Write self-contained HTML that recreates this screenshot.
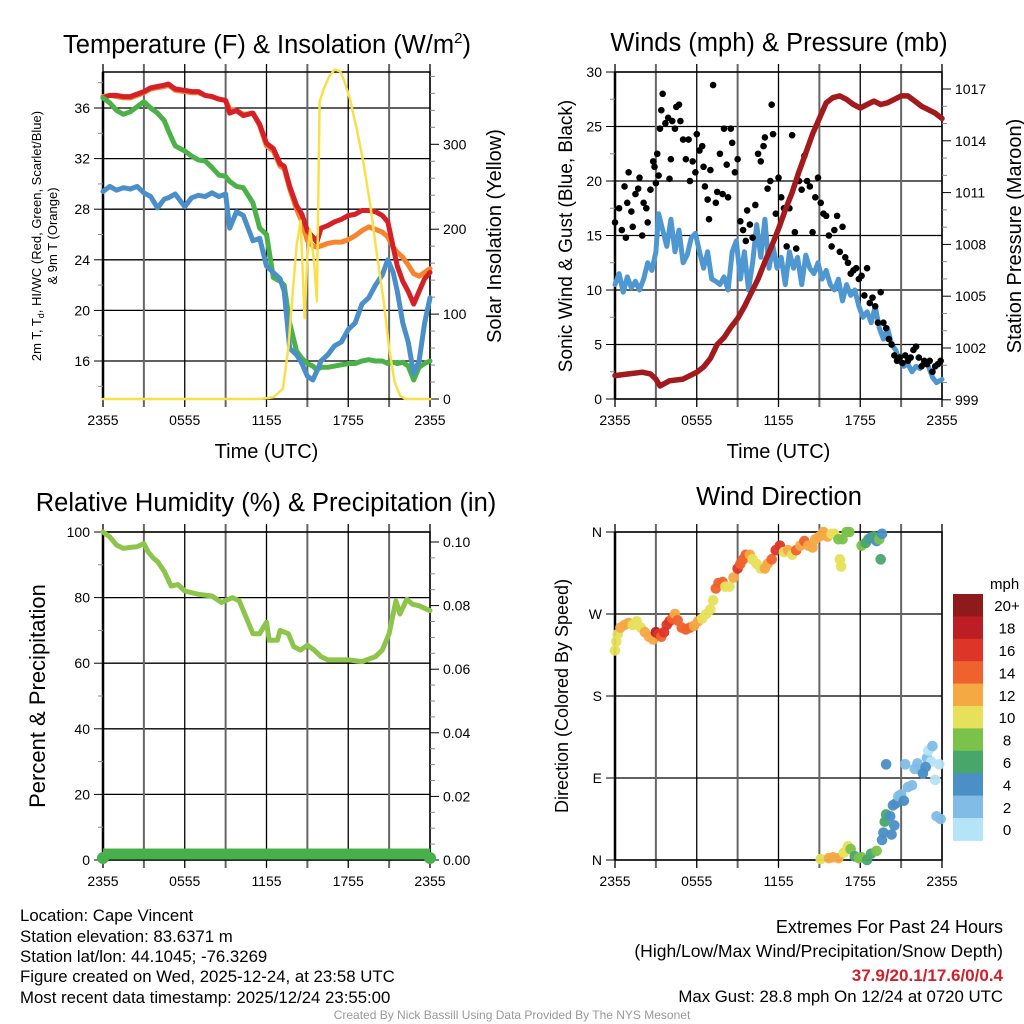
<!DOCTYPE html>
<html><head><meta charset="utf-8">
<style>
html,body{margin:0;padding:0;background:#fff;}
svg{display:block;font-family:"Liberation Sans",Arial,sans-serif;}
</style></head>
<body>
<svg id="chart" width="1024" height="1024" viewBox="0 0 1024 1024" xmlns="http://www.w3.org/2000/svg">
<rect width="1024" height="1024" fill="#fff"/>
<g id="root"></g>
<g font-size="16.8" fill="#000">
<text x="20" y="921">Location: Cape Vincent</text>
<text x="20" y="942">Station elevation: 83.6371 m</text>
<text x="20" y="962">Station lat/lon: 44.1045; -76.3269</text>
<text x="20" y="982">Figure created on Wed, 2025-12-24, at 23:58 UTC</text>
<text x="20" y="1003">Most recent data timestamp: 2025/12/24 23:55:00</text>
</g>
<g font-size="17" text-anchor="end">
<text x="1003" y="933" font-size="18">Extremes For Past 24 Hours</text>
<text x="1003" y="957" font-size="17.5">(High/Low/Max Wind/Precipitation/Snow Depth)</text>
<text x="1003" y="981" fill="#d0202a" font-weight="bold">37.9/20.1/17.6/0/0.4</text>
<text x="1003" y="1002" font-size="16.8">Max Gust: 28.8 mph On 12/24 at 0720 UTC</text>
</g>
<text x="512" y="1019" font-size="12" fill="#999" text-anchor="middle">Created By Nick Bassill Using Data Provided By The NYS Mesonet</text>
</svg>
<script>
// ---------- data ----------
const timeTicks = ["2355","0555","1155","1755","2355"];
const tempHours = [0,0.5,1,1.5,2,2.5,3,3.5,4,4.5,4.8,5.3,6,6.5,7,7.5,8,8.5,9,9.3,9.8,10.3,11,11.5,12,12.5,13,13.3,13.7,14.2,14.6,15,15.4,15.7,16,16.5,17,17.5,18,18.5,19,19.5,20,20.5,20.9,21.3,21.6,22,22.4,22.8,23.2,23.6,24];
const tempRed =   [36.8,37.0,37.0,36.9,36.9,37.1,37.3,37.6,37.7,37.8,37.9,37.5,37.4,37.3,37.3,37.0,36.9,36.7,36.6,35.6,35.8,35.4,35.6,34.7,33.2,32.8,31.6,31.4,29.8,28.3,27.6,26.3,25.8,25.4,26.5,26.7,27.0,27.2,27.5,27.6,27.9,27.9,27.8,27.5,27.0,25.0,23.5,22.3,21.5,20.5,21.5,22.5,23.0];
const tempOrange =[36.9,37.0,36.9,36.8,36.8,37.0,37.2,37.5,37.6,37.7,37.8,37.4,37.3,37.2,37.2,37.0,36.9,36.7,36.6,35.9,35.8,35.5,35.6,34.6,33.0,32.6,31.4,31.2,29.6,28.0,27.0,25.5,25.1,25.0,25.1,25.3,25.4,25.4,25.6,25.9,26.3,26.6,26.4,26.2,25.8,25.0,24.6,24.2,23.6,22.9,22.7,23.0,23.3];
const tempGreen = [36.8,36.4,35.8,35.5,35.7,36.1,36.5,36.0,35.6,35.0,34.2,33.0,32.6,32.2,31.9,31.8,31.3,30.7,30.6,30.2,29.8,29.7,28.5,26.5,26.0,22.6,22.3,22.0,19.0,16.8,16.2,15.8,15.6,15.3,15.5,15.5,15.6,15.7,15.8,15.8,16.0,16.1,16.0,16.0,15.8,15.9,15.8,15.9,15.6,14.5,15.5,15.8,16.0];
const tempBlue =  [29.4,29.8,29.5,29.7,29.6,29.8,29.3,29.0,28.1,28.8,28.9,29.2,28.2,28.9,29.1,29.0,29.3,29.0,29.2,26.5,27.8,27.5,25.5,25.7,23.5,23.0,22.5,21.5,17.0,16.5,15.8,14.8,14.5,15.2,16.0,16.5,17.2,17.5,18.5,19.0,20.5,21.0,22.0,22.8,24.0,23.0,21.5,19.0,17.5,15.0,16.0,19.0,21.0];
const solarHours = [0,11.5,12.5,13.2,13.6,13.9,14.2,14.5,14.8,15.0,15.2,15.5,15.7,15.9,16.2,16.6,17.0,17.4,17.7,18.1,18.6,19.1,19.6,20.1,20.6,21.0,21.4,21.8,22.2,24];
const solarVals  = [0,0,2,12,60,120,180,210,95,170,200,160,115,350,365,380,388,386,375,355,320,280,230,170,115,60,20,4,0,0];
const pressHours = [0,1,2,2.6,3,3.3,4,5,6,6.5,7,7.5,8,8.5,9,9.5,10,10.5,11,11.5,12,12.5,13,13.5,14,14.5,15,15.5,16,16.5,17,17.5,18,18.5,19,19.5,20,20.5,21,21.5,22,22.5,23,23.5,24];
const pressVals  = [1000.4,1000.5,1000.6,1000.5,1000.2,999.8,1000.1,1000.2,1000.6,1000.9,1001.4,1002.2,1002.6,1003.2,1003.7,1004.4,1005.2,1006.0,1007.0,1007.9,1008.9,1010.0,1011.0,1012.2,1013.3,1014.4,1015.3,1016.2,1016.5,1016.6,1016.4,1016.1,1015.9,1016.1,1016.3,1016.1,1016.2,1016.4,1016.6,1016.6,1016.3,1016.0,1015.8,1015.6,1015.3];
const windHours = [0,0.3,0.6,0.9,1.2,1.5,1.8,2.1,2.4,2.7,3.0,3.2,3.5,3.8,4.1,4.4,4.7,5.0,5.3,5.6,5.9,6.2,6.5,6.8,7.1,7.4,7.7,8.0,8.3,8.6,8.9,9.2,9.5,9.8,10.1,10.4,10.7,11.0,11.3,11.6,11.9,12.2,12.5,12.8,13.1,13.4,13.7,14.0,14.3,14.6,14.9,15.2,15.5,15.8,16.1,16.4,16.7,17.0,17.3,17.6,17.9,18.2,18.5,18.8,19.1,19.4,19.7,20.0,20.3,20.6,20.9,21.2,21.5,21.8,22.1,22.4,22.7,23.0,23.3,23.6,24];
const windVals  = [10.5,11.5,9.8,11.2,10.2,10.8,10.0,11.0,12.5,11.8,13.5,17.0,15.5,14.0,16.5,13.5,15.5,12.5,13.2,14.8,15.2,13.5,12.0,13.5,11.0,10.8,10.5,11.2,10.0,13.5,14.5,11.0,13.5,10.0,12.5,16.0,13.0,16.5,12.0,14.0,12.0,13.0,10.5,13.5,12.0,13.0,10.5,13.2,12.0,11.5,12.5,11.0,11.8,10.5,10.0,11.0,9.0,10.5,9.5,10.0,8.5,7.5,8.0,7.0,8.5,6.5,5.5,6.5,5.0,4.5,3.5,3.0,3.2,2.5,3.0,2.8,3.5,3.0,2.0,1.5,1.8];
const gustHours = [0.0,0.3,0.5,0.7,0.8,0.9,1.0,1.2,1.3,1.5,1.7,1.8,2.0,2.1,2.3,2.4,2.6,2.8,2.9,3.0,3.1,3.2,3.3,3.4,3.5,3.7,3.9,4.0,4.1,4.2,4.4,4.5,4.7,4.8,5.0,5.2,5.4,5.5,5.7,5.9,6.0,6.2,6.4,6.5,6.6,6.8,6.9,7.0,7.2,7.4,7.5,7.7,7.9,8.0,8.2,8.3,8.5,8.6,8.8,9.0,9.2,9.4,9.6,9.7,9.9,10.1,10.3,10.5,10.7,10.9,11.0,11.2,11.4,11.5,11.6,11.8,12.0,12.2,12.4,12.6,12.8,13.0,13.2,13.3,13.5,13.7,13.9,14.1,14.3,14.5,14.7,14.9,15.1,15.3,15.5,15.7,15.9,16.1,16.3,16.5,16.7,16.9,17.1,17.3,17.5,17.7,17.9,18.1,18.3,18.5,18.7,18.9,19.1,19.3,19.5,19.7,19.9,20.1,20.3,20.5,20.7,20.9,21.1,21.3,21.5,21.7,21.9,22.1,22.3,22.5,22.7,22.9,23.1,23.3,23.5,23.7,23.9];
const gustVals  = [16.2,17.5,15.5,19.5,14.8,18.0,20.8,17.2,15.8,18.8,19.3,20.3,15.0,18.0,17.5,16.2,19.2,21.8,21.3,19.8,22.5,20.5,24.8,26.5,28.0,25.3,25.8,20.2,22.0,25.5,24.8,26.8,27.0,25.5,23.8,22.0,23.8,20.0,21.8,20.8,24.3,22.8,23.2,21.3,19.5,18.3,16.5,21.0,28.8,18.0,19.0,22.5,18.8,24.8,21.5,18.5,24.8,23.5,20.8,22.0,16.3,15.5,14.5,17.3,16.0,14.8,17.8,22.5,21.8,23.2,24.0,19.3,20.0,27.0,24.3,17.0,20.3,18.5,17.5,14.0,17.5,24.2,15.3,13.8,20.0,19.2,22.3,20.0,19.5,15.3,18.5,20.3,18.0,17.0,16.8,15.0,14.0,15.5,16.8,13.5,15.8,13.0,12.5,11.5,11.8,12.0,11.0,11.3,9.5,12.0,8.8,9.3,8.5,7.0,9.8,7.0,6.5,5.5,5.0,4.0,3.5,3.8,3.3,4.0,3.5,3.8,4.5,4.8,3.8,3.0,3.5,3.2,3.5,2.5,3.0,3.2,3.5];
const rhHours = [0,0.5,1,1.5,2,2.5,3,3.3,3.7,4,4.5,5,5.5,6,7,8,8.7,9.5,10,10.7,11,11.5,12,12.2,12.8,13,13.6,14,14.5,15,15.5,16,16.5,17,18,19,20,20.5,21,21.5,21.8,22.3,22.7,23.2,24];
const rhVals  = [100,98.5,96,95,95.3,95.5,96.5,94,92,91,88,83.5,84,82,81,80.5,78.5,80,79,72,69,69,72.5,67,67,70,69,65,64,65.5,64,62,61,61,61,60.5,62,64,69,79,75,79.5,78,77.5,76];
const precipHours = [0,24];
const precipVals  = [0,0];
const dirHours = [0.0,0.1,0.2,0.4,0.7,1.0,1.3,1.6,1.9,2.2,2.5,2.8,3.0,3.2,3.4,3.6,3.8,4.0,4.2,4.4,4.6,4.9,5.2,5.5,5.8,6.1,6.4,6.7,7.0,7.2,7.4,7.6,7.9,8.1,8.4,8.7,9.0,9.2,9.4,9.6,9.9,10.1,10.4,10.7,11.0,11.2,11.5,11.8,12.1,12.4,12.7,13.0,13.3,13.6,13.9,14.2,14.5,14.7,15.0,15.3,15.6,15.9,16.1,16.4,16.7,17.0,17.2,16.5,16.6,18.1,18.4,18.6,18.8,19.0,19.2,19.4,19.6,19.5,15.1,15.7,16.0,16.4,16.8,17.1,17.3,17.6,17.9,18.1,18.5,18.8,19.2,19.6,19.7,19.8,19.9,20.2,20.4,20.6,20.8,21.0,21.2,20.5,20.3,21.5,21.8,22.0,22.2,22.5,22.6,22.9,23.0,23.2,23.5,23.3,22.8,21.3,23.6,23.9,23.8,19.9];
const dirDeg   = [230,240,248,255,258,260,258,262,255,250,245,242,250,248,245,250,258,262,265,270,263,255,253,255,257,262,265,270,275,285,298,304,305,300,300,310,320,325,330,335,335,330,325,320,320,325,330,340,345,338,340,335,340,345,350,345,343,352,355,360,355,358,358,352,352,360,360,330,322,345,348,352,354,355,350,352,358,330,1,2,3,2,8,15,12,4,2,3,0,7,10,22,30,42,50,48,60,62,70,72,65,38,28,80,82,100,106,98,95,112,120,108,88,125,102,105,48,45,105,105];
const dirSpeed = [10,10,10,12,12,13,10,10,10,12,13,12,18,16,15,17,16,16,14,12,14,15,15,14,13,12,11,10,10,11,14,14,14,10,11,13,16,15,15,14,12,10,11,10,12,13,15,16,16,10,13,11,14,13,14,12,12,13,12,12,12,11,10,9,9,9,8,10,10,8,6,6,4,7,4,8,4,6,10,12,12,13,10,10,9,7,8,8,7,6,8,4,4,6,6,4,4,4,3,2,4,4,4,2,2,2,2,2,4,2,1,1,0,2,4,2,2,2,1,4];
const speedLabels = ["0","2","4","6","8","10","12","14","16","18","20+"];
const speedColors = ["#b5e3f7","#80bce6","#4a8fc6","#48a66b","#7bc24a","#e7e05b","#f6a843","#ef622d","#dd3527","#bd1d24","#8e1a1b"];

// ---------- helpers ----------
const NS="http://www.w3.org/2000/svg";
const root=document.getElementById('root');
function mk(tag,attrs,parent,txt){const e=document.createElementNS(NS,tag);for(const k in attrs)e.setAttribute(k,attrs[k]);if(txt!==undefined)e.textContent=txt;(parent||root).appendChild(e);return e;}
function lin(d0,d1,r0,r1){return v=>r0+(v-d0)*(r1-r0)/(d1-d0);}
function pathFrom(xs,ys,fx,fy){return xs.map((h,i)=>(i?'L':'M')+fx(h).toFixed(1)+','+fy(ys[i]).toFixed(1)).join('');}

function panel(o){
  const g=mk('g',{});
  
  
  const fx=lin(0,24,o.x0,o.x1);
  o.lt.forEach(v=>{const y=o.fy(v);mk('line',{x1:o.x0,x2:o.x1,y1:y,y2:y,stroke:'#000','stroke-width':1.3},g);});
  for(let h=0;h<=24;h+=3){const x=fx(h);mk('line',{x1:x,x2:x,y1:o.y0-8,y2:o.y1+8,stroke:(h%6==0)?'#000':'#666','stroke-width':(h%6==0)?1.3:2},g);}
  const fr=mk('rect',{x:o.x0,y:o.y0,width:o.x1-o.x0,height:o.y1-o.y0,fill:'none',stroke:'#000','stroke-width':1.5},g);
  
  mk('line',{x1:o.x0,x2:o.x0,y1:o.y0,y2:o.y1,stroke:'#000','stroke-width':2.5},g);
  const ly=mk('g',{'font-size':14,'text-anchor':'end'},g);
  
  o.lt.forEach((v,i)=>{const y=o.fy(v);mk('line',{x1:o.x0-9,x2:o.x0,y1:y,y2:y,stroke:'#000','stroke-width':1},ly);mk('text',{x:o.x0-13,y:y+5},ly,o.ltl?o.ltl[i]:String(v));});
  (o.lminor||[]).forEach(v=>{const y=o.fy(v);mk('line',{x1:o.x0-5,x2:o.x0,y1:y,y2:y,stroke:'#888','stroke-width':1},ly);});
  if(o.rt){const ry=mk('g',{'font-size':14},g);
    
    o.rt.forEach((v,i)=>{const y=o.fry(v);mk('line',{x1:o.x1,x2:o.x1+9,y1:y,y2:y,stroke:'#000','stroke-width':1},ry);mk('text',{x:o.x1+13,y:y+5},ry,o.rtl[i]);});
    (o.rminor||[]).forEach(v=>{const y=o.fry(v);mk('line',{x1:o.x1,x2:o.x1+5,y1:y,y2:y,stroke:'#888','stroke-width':1},ry);});
  }
  const xa=mk('g',{'font-size':14,'text-anchor':'middle'},g);
  
  timeTicks.forEach((t,i)=>{mk('text',{x:fx(i*6),y:o.y1+26},xa,t);});
  const t=mk('text',{x:o.tx,y:o.ty,'font-size':25.5,'text-anchor':'middle'},g,o.title);
  
  if(o.sup){mk('tspan',{dy:-10,'font-size':15},t,'2');mk('tspan',{dy:10},t,')');}
  if(o.xlabel){const xl=mk('text',{x:(o.x0+o.x1)/2,y:o.y1+59,'font-size':20,'text-anchor':'middle'},g,o.xlabel);}
  o.g=g;o.fx=fx;return o;
}

// ---------- Panel 1: temperature ----------
const p1=panel({name:'temperature-panel',x0:103,x1:430,y0:72,y1:399,fy:lin(16,36,361,108),lt:[16,20,24,28,32,36],lminor:[14,18,22,26,30,34,38],
  fry:lin(0,300,399,144.3),rt:[0,100,200,300],rtl:['0','100','200','300'],rminor:[20,40,60,80,120,140,160,180,220,240,260,280,320,340,360,380],
  title:'Temperature (F) & Insolation (W/m',sup:true,tx:267,ty:53,xlabel:'Time (UTC)'});
function series(p,xs,ys,fy,color,w,name){const e=mk('path',{d:pathFrom(xs,ys,p.fx,fy),fill:'none',stroke:color,'stroke-width':w,'stroke-linejoin':'round','stroke-linecap':'round'},p.g);return e;}
series(p1,tempHours,tempOrange,p1.fy,'#f5862f',5,'line-9m-temp');
series(p1,tempHours,tempRed,p1.fy,'#d52027',5,'line-2m-temp');
series(p1,tempHours,tempGreen,p1.fy,'#4bb148',5,'line-dewpoint');
series(p1,tempHours,tempBlue,p1.fy,'#4b8fc8',5,'line-wind-chill');
series(p1,solarHours,solarVals,p1.fry,'#f9e04b',2.5,'line-solar-insolation');
{const l=mk('text',{transform:'translate(41,236) rotate(-90)','font-size':13,'text-anchor':'middle'},p1.g,'2m T, T');
 mk('tspan',{dy:3,'font-size':9},l,'d');mk('tspan',{dy:-3},l,', HI/WC (Red, Green, Scarlet/Blue)');
 const l2=mk('text',{transform:'translate(57,236) rotate(-90)','font-size':13,'text-anchor':'middle'},p1.g,'& 9m T (Orange)');
 const r=mk('text',{transform:'translate(501,236) rotate(-90)','font-size':20,'text-anchor':'middle'},p1.g,'Solar Insolation (Yellow)');}

// ---------- Panel 2: winds & pressure ----------
const p2=panel({name:'wind-pressure-panel',x0:615,x1:942,y0:72,y1:399,fy:lin(0,30,399,72),lt:[0,5,10,15,20,25,30],lminor:[2.5,7.5,12.5,17.5,22.5,27.5],
  fry:lin(1002,1017,348,89),rt:[999,1002,1005,1008,1011,1014,1017],rtl:['999','1002','1005','1008','1011','1014','1017'],rminor:[1000,1001,1003,1004,1006,1007,1009,1010,1012,1013,1015,1016],
  title:'Winds (mph) & Pressure (mb)',tx:779,ty:51,xlabel:'Time (UTC)'});
series(p2,windHours,windVals,p2.fy,'#4f97d1',5,'line-sonic-wind');
{const gg=mk('g',{fill:'#000'},p2.g);
 gustHours.forEach((h,i)=>{const c=mk('circle',{cx:p2.fx(h),cy:p2.fy(gustVals[i]),r:3.3},gg);});}
series(p2,pressHours,pressVals,p2.fry,'#a31a1e',5.5,'line-station-pressure');
{const l=mk('text',{transform:'translate(572,236) rotate(-90)','font-size':19,'text-anchor':'middle'},p2.g,'Sonic Wind & Gust (Blue, Black)');
 const r=mk('text',{transform:'translate(1021,236) rotate(-90)','font-size':20,'text-anchor':'middle'},p2.g,'Station Pressure (Maroon)');}

// ---------- Panel 3: RH & precip ----------
const p3=panel({name:'humidity-precip-panel',x0:103,x1:430,y0:532,y1:860,fy:lin(0,100,860,532),lt:[0,20,40,60,80,100],lminor:[10,30,50,70,90],
  fry:lin(0,0.1,860,542),rt:[0,0.02,0.04,0.06,0.08,0.1],rtl:['0.00','0.02','0.04','0.06','0.08','0.10'],rminor:[0.005,0.01,0.015,0.025,0.03,0.035,0.045,0.05,0.055,0.065,0.07,0.075,0.085,0.09,0.095],
  title:'Relative Humidity (%) & Precipitation (in)',tx:266,ty:511});
series(p3,rhHours,rhVals,p3.fy,'#8dc54b',5,'line-relative-humidity');
{const e=mk('path',{d:pathFrom(precipHours,precipVals,p3.fx,v=>p3.fry(v)-6),fill:'none',stroke:'#48b04a','stroke-width':11},p3.g);
 [0,24].forEach(h=>{const c=mk('circle',{cx:p3.fx(h),cy:p3.fry(0)-2,r:6,fill:'#48b04a'},p3.g);});
 const l=mk('text',{transform:'translate(45,696) rotate(-90)','font-size':22,'text-anchor':'middle'},p3.g,'Percent & Precipitation');}

// ---------- Panel 4: wind direction ----------
const p4=panel({name:'wind-direction-panel',x0:615,x1:942,y0:532,y1:860,fy:lin(0,360,860,532),lt:[0,90,180,270,360],ltl:['N','E','S','W','N'],
  title:'Wind Direction',tx:779,ty:505});
{const gg=mk('g',{},p4.g);
 dirHours.forEach((h,i)=>{const k=Math.min(10,Math.floor(dirSpeed[i]/2));const c=mk('circle',{cx:p4.fx(h),cy:p4.fy(dirDeg[i]),r:5.3,fill:speedColors[k],'fill-opacity':0.95},gg);});
 const l=mk('text',{transform:'translate(568,696) rotate(-90)','font-size':18,'text-anchor':'middle'},p4.g,'Direction (Colored By Speed)');
 const lg=mk('g',{'font-size':15},p4.g);
 mk('text',{x:990,y:589},lg,'mph');
 const by=594,bh=22.4;
 for(let i=0;i<speedColors.length;i++){const j=speedColors.length-1-i;const r=mk('rect',{x:953,y:by+i*bh,width:30,height:bh+0.5,fill:speedColors[j]},lg);
   mk('text',{x:1007,y:by+i*bh+bh/2+6,'text-anchor':'middle'},lg,speedLabels[j]);}
}
</script>
</body></html>
